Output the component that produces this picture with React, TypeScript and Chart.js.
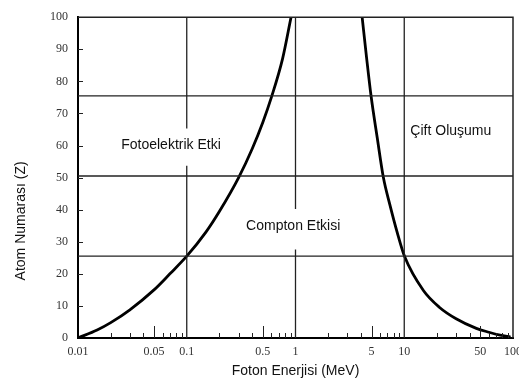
import React, { useEffect, useRef } from 'react';
import { Chart, registerables } from 'chart.js';

Chart.register(...registerables);

// Axis ticks
const X_TICKS = [0.01, 0.05, 0.1, 0.5, 1, 5, 10, 50, 100];
const X_TICK_LABELS = ['0.01', '0.05', '0.1', '0.5', '1', '5', '10', '50', '100'];
const X_DECADES = [0.01, 0.1, 1, 10];
const X_MINOR_MULT = [2, 3, 4, 5, 6, 7, 8, 9];
const X_LONG_MULT = 5;
const Y_TICKS = [0, 10, 20, 30, 40, 50, 60, 70, 80, 90, 100];

// Photoelectric / Compton boundary (left curve)
const PE_ENERGY = [0.01, 0.015, 0.02, 0.03, 0.05, 0.07, 0.1, 0.15, 0.2, 0.3, 0.4, 0.5, 0.6, 0.76, 0.91];
const PE_Z = [0, 2.5, 4.8, 8.8, 15, 20, 25.5, 33, 39.5, 50, 59, 67.2, 75, 87, 100];

// Compton / pair production boundary (right curve)
const PP_ENERGY = [4.1, 4.5, 4.95, 5.64, 6.43, 7.38, 8.6, 10.1, 15, 21, 30, 46, 60, 76, 95];
const PP_Z = [100, 87.5, 75.5, 62.5, 50, 41.5, 33, 25.3, 14.8, 9.6, 6, 3, 1.8, 0.9, 0.3];

// Reference lines
const H_LINES = [25.5, 50.5, 75.5];
const V_LINES = [0.1, 1, 10];
const V_GAP_FROM = [53.7, 27.6, null];
const V_GAP_TO = [65.3, 40.2, null];

// Region labels
const REGION_TEXT = ['Fotoelektrik Etki', 'Compton Etkisi', 'Çift Oluşumu'];
const REGION_X = [0.0716, 0.952, 26.8];
const REGION_Z = [60, 35, 64.5];

const X_TITLE = 'Foton Enerjisi (MeV)';
const Y_TITLE = 'Atom Numarası (Z)';
const Y_TITLE_AT = 36.5;

const SANS = "'Liberation Sans', Arial, sans-serif";
const SERIF = "'Liberation Serif', 'Times New Roman', serif";

function buildVLine(x: number, from: number | null, to: number | null) {
  if (from === null || to === null) return [{ x, y: 0 }, { x, y: 100 }];
  return [{ x, y: 0 }, { x, y: from }, { x, y: null }, { x, y: to }, { x, y: 100 }];
}

const overlayPlugin = {
  id: 'overlay',
  afterDatasetsDraw(chart: any) {
    const { ctx, chartArea: a, scales } = chart;
    const xs = scales.x;
    const ys = scales.y;
    ctx.save();
    // frame top/right
    ctx.strokeStyle = '#222';
    ctx.lineWidth = 1.5;
    ctx.beginPath();
    ctx.moveTo(a.left, a.top);
    ctx.lineTo(a.right, a.top);
    ctx.lineTo(a.right, a.bottom);
    ctx.stroke();
    // x minor ticks (inside)
    ctx.lineWidth = 1;
    ctx.strokeStyle = '#222';
    for (const d of X_DECADES) {
      for (const m of X_MINOR_MULT) {
        const px = Math.round(xs.getPixelForValue(d * m)) + 0.5;
        const len = m === X_LONG_MULT ? 12 : 5;
        ctx.beginPath();
        ctx.moveTo(px, a.bottom);
        ctx.lineTo(px, a.bottom - len);
        ctx.stroke();
      }
    }
    // y ticks (inside)
    for (const v of Y_TICKS) {
      if (v === 0 || v === 100) continue;
      const py = Math.round(ys.getPixelForValue(v)) + 0.5;
      ctx.beginPath();
      ctx.moveTo(a.left, py);
      ctx.lineTo(a.left + 5, py);
      ctx.stroke();
    }
    // region labels
    ctx.fillStyle = '#111';
    ctx.font = `14px ${SANS}`;
    ctx.textAlign = 'center';
    ctx.textBaseline = 'middle';
    REGION_TEXT.forEach((t, i) => {
      ctx.fillText(t, xs.getPixelForValue(REGION_X[i]), ys.getPixelForValue(REGION_Z[i]));
    });
    // y title
    ctx.translate(21, ys.getPixelForValue(Y_TITLE_AT));
    ctx.rotate(-Math.PI / 2);
    ctx.fillText(Y_TITLE, 0, 0);
    ctx.restore();
  },
};

export default function App() {
  const ref = useRef<HTMLCanvasElement | null>(null);

  useEffect(() => {
    if (!ref.current) return;
    const lineStyle = { borderColor: '#222', borderWidth: 1.3, pointRadius: 0, fill: false, spanGaps: false, tension: 0 };
    const datasets: any[] = [];
    H_LINES.forEach((y) => {
      datasets.push({ ...lineStyle, data: [{ x: 0.01, y }, { x: 100, y }] });
    });
    V_LINES.forEach((x, i) => {
      datasets.push({ ...lineStyle, data: buildVLine(x, V_GAP_FROM[i], V_GAP_TO[i]) });
    });
    datasets.push({
      data: PE_ENERGY.map((x, i) => ({ x, y: PE_Z[i] })),
      borderColor: '#000', borderWidth: 2.8, pointRadius: 0, fill: false, cubicInterpolationMode: 'monotone',
    });
    datasets.push({
      data: PP_ENERGY.map((x, i) => ({ x, y: PP_Z[i] })),
      borderColor: '#000', borderWidth: 2.8, pointRadius: 0, fill: false, cubicInterpolationMode: 'monotone',
    });

    const chart = new Chart(ref.current, {
      type: 'line',
      data: { datasets },
      plugins: [overlayPlugin],
      options: {
        animation: false,
        responsive: false,
        layout: { padding: { top: 12, right: 6, left: 0, bottom: 0 } },
        plugins: { legend: { display: false }, tooltip: { enabled: false }, title: { display: false } },
        scales: {
          x: {
            type: 'logarithmic',
            min: 0.01,
            max: 100,
            afterBuildTicks: (s: any) => { s.ticks = X_TICKS.map((v) => ({ value: v })); },
            afterFit: (s: any) => { s.height = 42; s.paddingLeft = 0; s.paddingRight = 0; },
            ticks: {
              autoSkip: false, maxRotation: 0, padding: 7, color: '#333',
              font: { family: SERIF, size: 12 },
              callback: (_v: any, i: number) => X_TICK_LABELS[i],
            },
            grid: { display: false, drawTicks: false },
            border: { display: true, color: '#000', width: 2 },
            title: { display: true, text: X_TITLE, color: '#111', font: { family: SANS, size: 14 }, padding: { top: 0, bottom: 0 } },
          },
          y: {
            type: 'linear',
            min: 0,
            max: 100,
            afterBuildTicks: (s: any) => { s.ticks = Y_TICKS.map((v) => ({ value: v })); },
            afterFit: (s: any) => { s.width = 78; },
            ticks: { padding: 10, color: '#333', font: { family: SERIF, size: 12 } },
            grid: { display: false, drawTicks: false },
            border: { display: true, color: '#000', width: 2 },
          },
        },
      },
    } as any);
    return () => chart.destroy();
  }, []);

  return (
    <div style={{ position: 'fixed', left: 0, top: 0, width: 519, height: 380, background: '#fff' }}>
      <canvas ref={ref} width={519} height={380} />
    </div>
  );
}
